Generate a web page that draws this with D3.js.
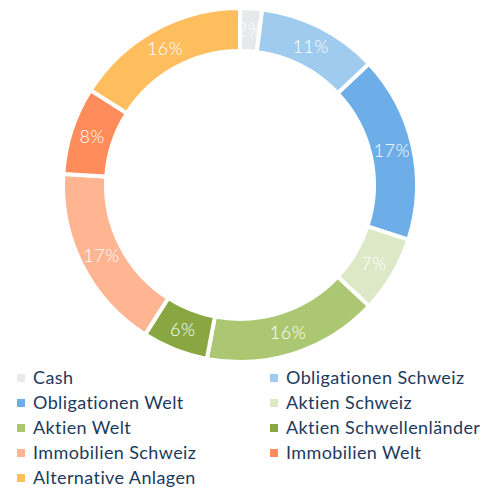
<!DOCTYPE html>
<html>
<head>
<meta charset="utf-8">
<script src="https://cdn.jsdelivr.net/npm/d3@7"></script>
<style>
  body { margin: 0; background: #fff; }
  svg { display: block; font-family: "Lato", "Open Sans", sans-serif; }
</style>
</head>
<body>
<div id="chart"></div>
<script>
// Data
const categories = ["Cash", "Obligationen Schweiz", "Obligationen Welt", "Aktien Schweiz", "Aktien Welt",
  "Aktien Schwellenländer", "Immobilien Schweiz", "Immobilien Welt", "Alternative Anlagen"];
const shares = [2, 11, 17, 7, 16, 6, 17, 8, 16];
const colors = ["#e8e9eb", "#9fcbef", "#6daee9", "#dde8c7", "#abc772", "#89a741", "#ffb492", "#ff8c5a", "#ffbe5e"];

const width = 493, height = 488;
const cx = 240, cy = 185;
const outerR = 177, innerR = 134;

const svg = d3.select("#chart").append("svg")
  .attr("width", width)
  .attr("height", height);

const data = categories.map((c, i) => ({ name: c, value: shares[i], color: colors[i] }));

// Pie layout starting at 12 o'clock, keep order
const pie = d3.pie().sort(null).value(d => d.value);
const arc = d3.arc().innerRadius(innerR).outerRadius(outerR);

const g = svg.append("g").attr("transform", `translate(${cx},${cy})`);

const arcs = pie(data);

g.selectAll("path")
  .data(arcs)
  .join("path")
  .attr("d", arc)
  .attr("fill", d => d.data.color)
  .attr("stroke", "#fff")
  .attr("stroke-width", 4);

// Percentage labels at the ring centroid
g.selectAll("text.pct")
  .data(arcs)
  .join("text")
  .attr("class", "pct")
  .attr("transform", d => `translate(${arc.centroid(d)})`)
  .attr("text-anchor", "middle")
  .attr("dy", "0.35em")
  .attr("fill", "#fff")
  .style("font-size", "18px")
  .style("font-weight", 300)
  .style("letter-spacing", "0.5px")
  .text(d => d.data.value + "%");

// Legend in two columns
const legend = svg.append("g");
const colX = d3.scaleOrdinal().domain([0, 1]).range([17, 270]);
const rowY = d3.scaleLinear().domain([0, 4]).range([378, 478]);

const item = legend.selectAll("g")
  .data(data)
  .join("g")
  .attr("transform", (d, i) => `translate(${colX(i % 2)},${rowY(Math.floor(i / 2))})`);

item.append("rect")
  .attr("x", 0)
  .attr("y", -4)
  .attr("width", 8)
  .attr("height", 8)
  .attr("fill", d => d.color);

item.append("text")
  .attr("x", 16)
  .attr("dy", "0.35em")
  .attr("fill", "#1d3a5c")
  .style("font-size", "18px")
  .style("letter-spacing", "0.4px")
  .text(d => d.name);
</script>
</body>
</html>
